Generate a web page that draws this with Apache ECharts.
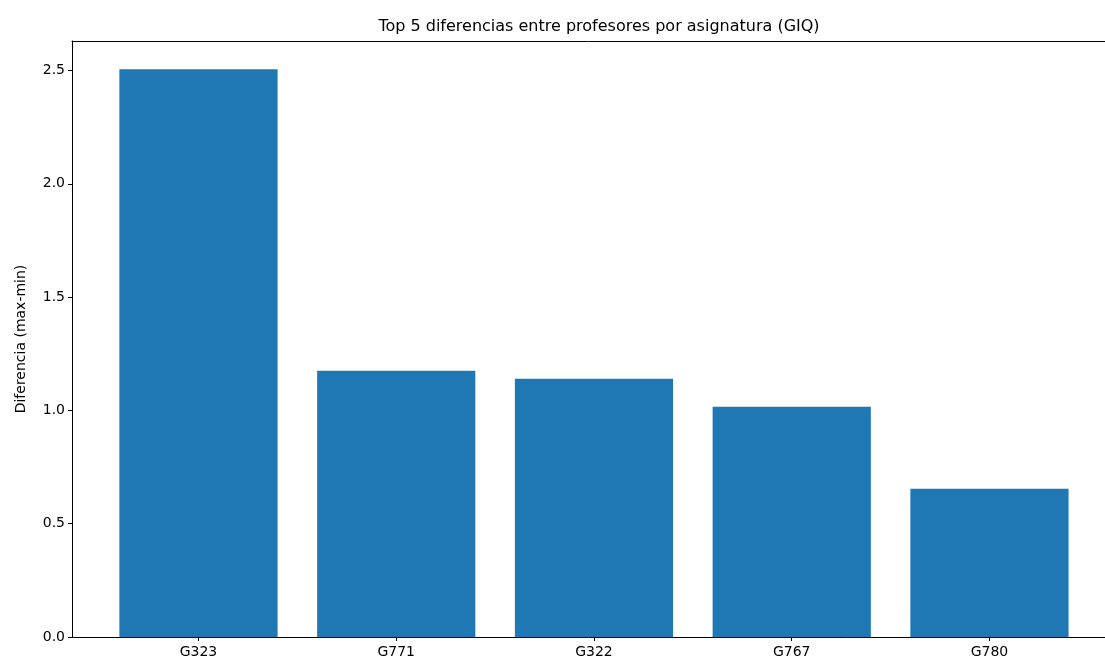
<!DOCTYPE html>
<html>
<head>
<meta charset="utf-8">
<script src="https://cdn.jsdelivr.net/npm/echarts@6/dist/echarts.min.js"></script>
<style>html,body{margin:0;padding:0;background:#fff}#c{width:1105px;height:661px}</style>
</head>
<body>
<div id="c"></div>
<script>
const categories = ['G323', 'G771', 'G322', 'G767', 'G780'];
const diffValues = [2.505, 1.175, 1.140, 1.016, 0.654];
const yTicks = [0, 0.5, 1.0, 1.5, 2.0, 2.5];

const chart = echarts.init(document.getElementById('c'), null, {renderer: 'canvas'});
const font = 'DejaVu Sans';
const spine = {show: true, lineStyle: {color: '#000', width: 1}};
chart.setOption({
  animation: false,
  backgroundColor: '#fff',
  textStyle: {fontFamily: font},
  title: {
    text: 'Top 5 diferencias entre profesores por asignatura (GIQ)',
    left: 594, top: 14, textAlign: 'center',
    textStyle: {fontFamily: font, fontSize: 16, fontWeight: 'normal', color: '#000'}
  },
  grid: [
    {left: 99.6, top: 41, width: 988.75, height: 596},
    {left: 72, top: 41, width: 1045, height: 596, show: false}
  ],
  xAxis: [
    {
      type: 'category', gridIndex: 0, data: categories,
      axisLine: {show: false},
      axisTick: {show: true, alignWithLabel: true, length: 4, lineStyle: {color: '#000'}},
      axisLabel: {color: '#000', fontSize: 14, margin: 8, fontFamily: font},
      splitLine: {show: false}
    },
    {type: 'value', gridIndex: 1, position: 'bottom', z: 10, axisLine: spine,
      axisTick: {show: false}, axisLabel: {show: false}, splitLine: {show: false}},
    {type: 'value', gridIndex: 1, position: 'top', z: 10, axisLine: spine,
      axisTick: {show: false}, axisLabel: {show: false}, splitLine: {show: false}}
  ],
  yAxis: [
    {
      type: 'value', gridIndex: 0, min: 0, max: 2.63, interval: 0.5, offset: 27.6,
      axisLine: {show: false},
      axisTick: {show: true, length: 4, lineStyle: {color: '#000'}, customValues: yTicks},
      axisLabel: {color: '#000', fontSize: 14, margin: 7, fontFamily: font, customValues: yTicks,
        formatter: v => v.toFixed(1)},
      splitLine: {show: false},
      name: 'Diferencia (max-min)', nameLocation: 'middle', nameGap: 44,
      nameTextStyle: {color: '#000', fontSize: 14, fontFamily: font}
    },
    {type: 'value', gridIndex: 1, position: 'left', z: 10, axisLine: spine,
      axisTick: {show: false}, axisLabel: {show: false}, splitLine: {show: false}}
  ],
  series: [{
    type: 'bar', xAxisIndex: 0, yAxisIndex: 0,
    data: diffValues, barWidth: '80%',
    itemStyle: {color: '#1f77b4'}
  }]
});
</script>
</body>
</html>
